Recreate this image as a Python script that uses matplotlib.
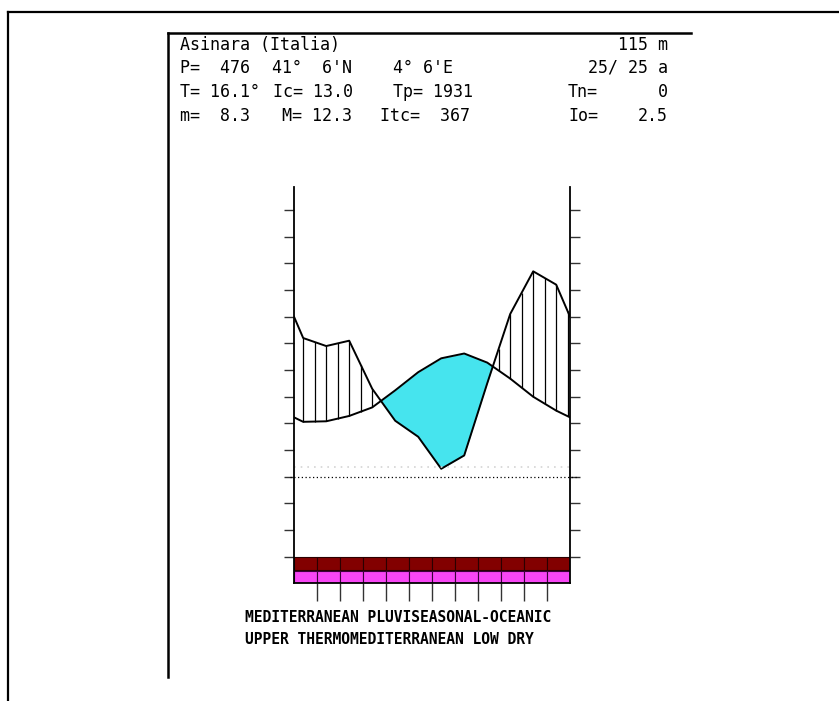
import matplotlib
matplotlib.use("Agg")
import matplotlib.pyplot as plt
import numpy as np
from matplotlib.lines import Line2D

W, H = 839, 701

# monthly climate data, Asinara (Italia)
months = np.arange(12)
temp = [10.3, 10.4, 11.4, 13.0, 16.2, 19.6, 22.2, 23.1, 21.4, 18.4, 15.0, 12.4]  # °C
prec = [52, 49, 51, 33, 21, 15, 3, 8, 35, 61, 77, 72]  # mm

station = "Asinara (Italia)"
altitude = "115 m"
row_p = ["P=  476", "41°  6'N", "4° 6'E", "25/ 25 a"]
row_t = ["T= 16.1°", "Ic= 13.0", "Tp= 1931", "Tn=", "0"]
row_m = ["m=  8.3", "M= 12.3", "Itc=  367", "Io=", "2.5"]
bioclimate = [
    "MEDITERRANEAN PLUVISEASONAL-OCEANIC",
    "UPPER THERMOMEDITERRANEAN LOW DRY",
]

band_colors = ["#820000", "#f846f5"]
CYAN = "#46e4ee"
MONO = "DejaVu Sans Mono"


def fx(px):
    return px / W


def fy(py):
    return 1 - py / H


def wrap(vals, off=0.4):
    # close the curve at both axes by joining Dec -> Jan
    v = np.asarray(vals, dtype=float)
    edge = v[-1] + (v[0] - v[-1]) * (1 - off)
    return np.r_[edge, v, edge]


fig = plt.figure(figsize=(W / 100, H / 100), dpi=100)

# frames
fig.add_artist(Line2D([fx(8), fx(839)], [fy(12), fy(12)], color="k", lw=1.6))
fig.add_artist(Line2D([fx(8), fx(8)], [fy(12), fy(701)], color="k", lw=1.6))
fig.add_artist(Line2D([fx(168), fx(691)], [fy(33), fy(33)], color="k", lw=1.8))
fig.add_artist(Line2D([fx(168), fx(168)], [fy(33), fy(677)], color="k", lw=1.8))

# header
tk = dict(fontfamily=MONO, fontsize=12, va="center", color="black")
fig.text(fx(180), fy(45), station, ha="left", **tk)
fig.text(fx(668), fy(45), altitude, ha="right", **tk)

fig.text(fx(180), fy(68), row_p[0], ha="left", **tk)
fig.text(fx(272), fy(68), row_p[1], ha="left", **tk)
fig.text(fx(393), fy(68), row_p[2], ha="left", **tk)
fig.text(fx(668), fy(68), row_p[3], ha="right", **tk)

fig.text(fx(180), fy(92), row_t[0], ha="left", **tk)
fig.text(fx(273), fy(92), row_t[1], ha="left", **tk)
fig.text(fx(393), fy(92), row_t[2], ha="left", **tk)
fig.text(fx(568), fy(92), row_t[3], ha="left", **tk)
fig.text(fx(668), fy(92), row_t[4], ha="right", **tk)

fig.text(fx(180), fy(116), row_m[0], ha="left", **tk)
fig.text(fx(352), fy(116), row_m[1], ha="right", **tk)
fig.text(fx(470), fy(116), row_m[2], ha="right", **tk)
fig.text(fx(568), fy(116), row_m[3], ha="left", **tk)
fig.text(fx(668), fy(116), row_m[4], ha="right", **tk)

# diagram
ax = fig.add_axes([fx(294), fy(583), fx(570) - fx(294), fy(187) - fy(583)])
ax.set_xlim(0, 12)
ax.set_ylim(-19.9, 54.3)

xs = np.r_[0, months + 0.4, 12]
tw = wrap(temp)
pw = wrap(prec) / 2.0  # 10 mm = 5 °C

ax.fill_between(xs, tw, pw, where=tw > pw, interpolate=True, color=CYAN, lw=0)

xh = np.arange(0.4, 12, 0.5)
th = np.interp(xh, xs, tw)
ph = np.interp(xh, xs, pw)
m = ph > th
ax.vlines(xh[m], th[m], ph[m], color="k", lw=0.9)

ax.plot(xs, tw, color="k", lw=1.4)
ax.plot(xs, pw, color="k", lw=1.4)

ax.axhline(1.9, color="#d4d4d4", ls=(0, (1, 3)), lw=1.2)
ax.axhline(0, xmin=-0.015, xmax=1.025, clip_on=False, color="k", ls=(0, (1, 2)), lw=0.9)

# frost bands
ax.bar(months + 0.5, 2.4, bottom=-17.4, width=1, color=band_colors[0],
       edgecolor="#2a0000", lw=0.8)
ax.bar(months + 0.5, 2.3, bottom=-19.9, width=1, color=band_colors[1],
       edgecolor="#3a003a", lw=0.8)

for s in ["left", "right", "bottom"]:
    ax.spines[s].set_linewidth(1.3)
ax.spines["top"].set_visible(False)

ax.set_yticks(np.arange(-15, 51, 5))
ax.set_xticks(np.arange(1, 12))
ax.tick_params(axis="y", left=True, right=True, direction="out", length=7,
               width=1, color="#333333", labelleft=False)
ax.tick_params(axis="x", bottom=True, direction="out", length=13, width=1,
               color="#333333", labelbottom=False)

# bioclimate text
bk = dict(fontfamily=MONO, fontweight="bold", fontsize=10.5,
          va="center", ha="left", color="black")
fig.text(fx(245), fy(617), bioclimate[0], **bk)
fig.text(fx(245), fy(639), bioclimate[1], **bk)

fig.savefig("out.png", dpi=100)
